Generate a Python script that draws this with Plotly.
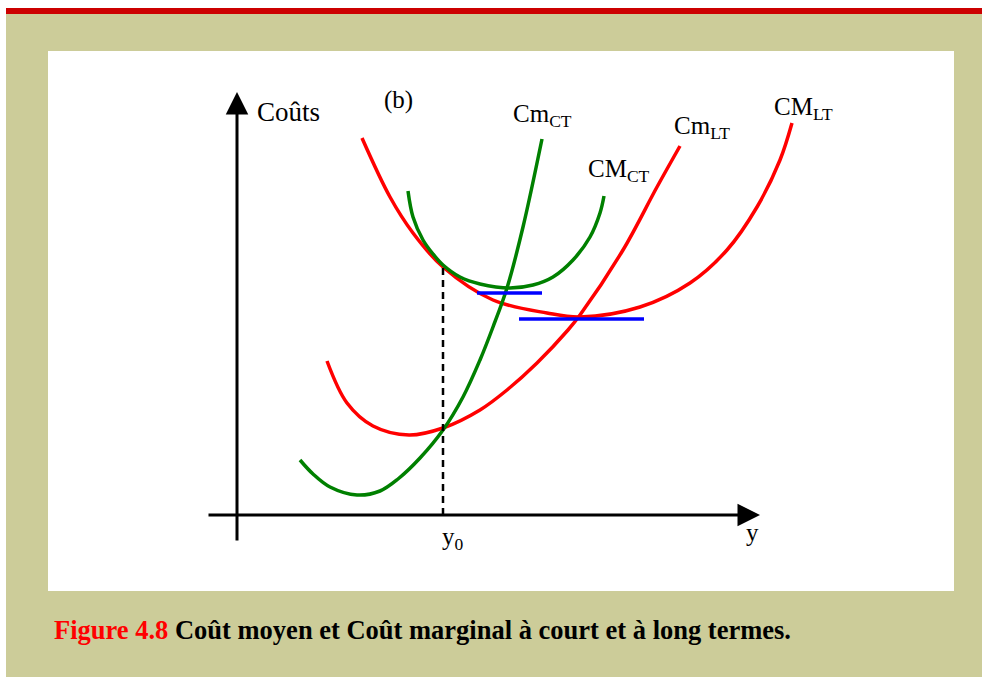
import plotly.graph_objects as go

# Output y (horizontal) and cost (vertical), origin at the axes crossing
cm_lt_avg_q = [12.5, 15.3, 17.6, 20.6, 25.6, 31.0, 34.3, 40.3, 45.3, 49.0, 52.0, 54.3, 55.5]
cm_lt_avg_c = [37.7, 31.8, 28.2, 24.8, 21.5, 20.2, 19.8, 20.8, 23.2, 26.5, 30.8, 35.5, 39.2]

cm_ct_avg_q = [17.1, 17.6, 18.6, 19.6, 20.6, 22.3, 24.3, 27.3, 29.6, 31.6, 33.6, 35.3, 36.3, 36.7]
cm_ct_avg_c = [32.4, 29.8, 27.5, 26.1, 25.0, 23.8, 23.1, 22.7, 23.0, 23.8, 25.5, 27.8, 30.2, 31.9]

cm_ct_marg_q = [6.3, 7.6, 9.3, 12.0, 14.3, 16.1, 18.3, 20.6, 22.6, 24.3, 25.6, 27.0, 28.6, 30.5]
cm_ct_marg_c = [5.5, 4.1, 2.8, 2.0, 2.4, 3.6, 5.7, 8.5, 11.8, 15.5, 18.8, 22.7, 28.8, 37.6]

cm_lt_marg_q = [9.0, 11.0, 13.6, 17.2, 20.6, 24.3, 27.0, 30.0, 33.1, 34.3, 38.6, 42.0, 44.3]
cm_lt_marg_c = [15.4, 11.2, 8.9, 8.0, 8.7, 10.5, 12.5, 15.2, 18.5, 20.0, 26.5, 32.8, 36.9]

# Minimum levels of the two average cost curves
min_ct_q = [24.0, 30.5]
min_ct_c = [22.2, 22.2]
min_lt_q = [28.2, 40.7]
min_lt_c = [19.6, 19.6]

y0_q = 20.6
y0_c = 25.0

RED = "#FF0000"
GREEN = "#008000"
BLUE = "#0000FF"
FONT = "Liberation Serif"

W, H = 982, 677


def py(v):
    return 1 - v / H


fig = go.Figure()

curves = [
    (cm_lt_avg_q, cm_lt_avg_c, RED),
    (cm_lt_marg_q, cm_lt_marg_c, RED),
    (cm_ct_avg_q, cm_ct_avg_c, GREEN),
    (cm_ct_marg_q, cm_ct_marg_c, GREEN),
]
for q, c, col in curves:
    fig.add_trace(go.Scatter(x=q, y=c, mode="lines",
                             line=dict(color=col, width=3.5, shape="spline", smoothing=1),
                             hoverinfo="skip", showlegend=False))

for q, c in [(min_ct_q, min_ct_c), (min_lt_q, min_lt_c)]:
    fig.add_trace(go.Scatter(x=q, y=c, mode="lines",
                             line=dict(color=BLUE, width=3.5),
                             hoverinfo="skip", showlegend=False))

# Dashed guide at y0
fig.add_trace(go.Scatter(x=[y0_q, y0_q], y=[0, y0_c], mode="lines",
                         line=dict(color="black", width=2.5, dash="7px,5px"),
                         hoverinfo="skip", showlegend=False))

shapes = [
    # page background
    dict(type="rect", xref="paper", yref="paper", x0=6 / W, x1=1, y0=0, y1=py(14),
         fillcolor="#CCCC99", line=dict(width=0), layer="below"),
    dict(type="rect", xref="paper", yref="paper", x0=6 / W, x1=1, y0=py(14), y1=py(8),
         fillcolor="#CC0000", line=dict(width=0), layer="below"),
    dict(type="rect", xref="paper", yref="paper", x0=48 / W, x1=954 / W, y0=py(591), y1=py(51),
         fillcolor="white", line=dict(width=0), layer="below"),
]
fig.update_layout(shapes=shapes)

# Axes with arrowheads
ann = [
    dict(x=0, y=42.3, ax=0, ay=-2.7, xref="x", yref="y", axref="x", ayref="y",
         showarrow=True, arrowhead=2, arrowsize=1.5, arrowwidth=3, arrowcolor="black", text=""),
    dict(x=52.3, y=0, ax=-3.0, ay=0, xref="x", yref="y", axref="x", ayref="y",
         showarrow=True, arrowhead=2, arrowsize=1.5, arrowwidth=3, arrowcolor="black", text=""),
]

labels = [
    ("Coûts", 5.1, 40.3, "center", 27),
    ("(b)", 16.1, 41.5, "center", 25),
    ("Cm<sub>CT</sub>", 27.4, 40.0, "left", 25),
    ("CM<sub>CT</sub>", 34.9, 34.5, "left", 25),
    ("Cm<sub>LT</sub>", 43.5, 38.8, "left", 25),
    ("CM<sub>LT</sub>", 53.5, 40.7, "left", 25),
    ("y<sub>0</sub>", 20.3, -2.3, "left", 25),
    ("y", 51.5, -1.7, "center", 25),
]
for text, x, y, xa, size in labels:
    ann.append(dict(x=x, y=y, xref="x", yref="y", text=text, showarrow=False,
                    xanchor=xa, yanchor="middle",
                    font=dict(family=FONT, size=size, color="black")))

ann.append(dict(x=52 / W, y=py(630), xref="paper", yref="paper", showarrow=False,
                xanchor="left", yanchor="middle",
                text="<b><span style='color:#FF0000'>Figure 4.8</span> "
                     "Coût moyen et Coût marginal à court et à long termes.</b>",
                font=dict(family=FONT, size=26.5, color="black")))

fig.update_layout(
    annotations=ann,
    width=W, height=H,
    margin=dict(l=0, r=0, t=0, b=0),
    paper_bgcolor="white",
    plot_bgcolor="rgba(0,0,0,0)",
    xaxis=dict(range=[-23.7, 74.5], visible=False, fixedrange=True),
    yaxis=dict(range=[-16.2, 51.5], visible=False, fixedrange=True),
)

fig.write_html("out.html", config={"displayModeBar": False})
